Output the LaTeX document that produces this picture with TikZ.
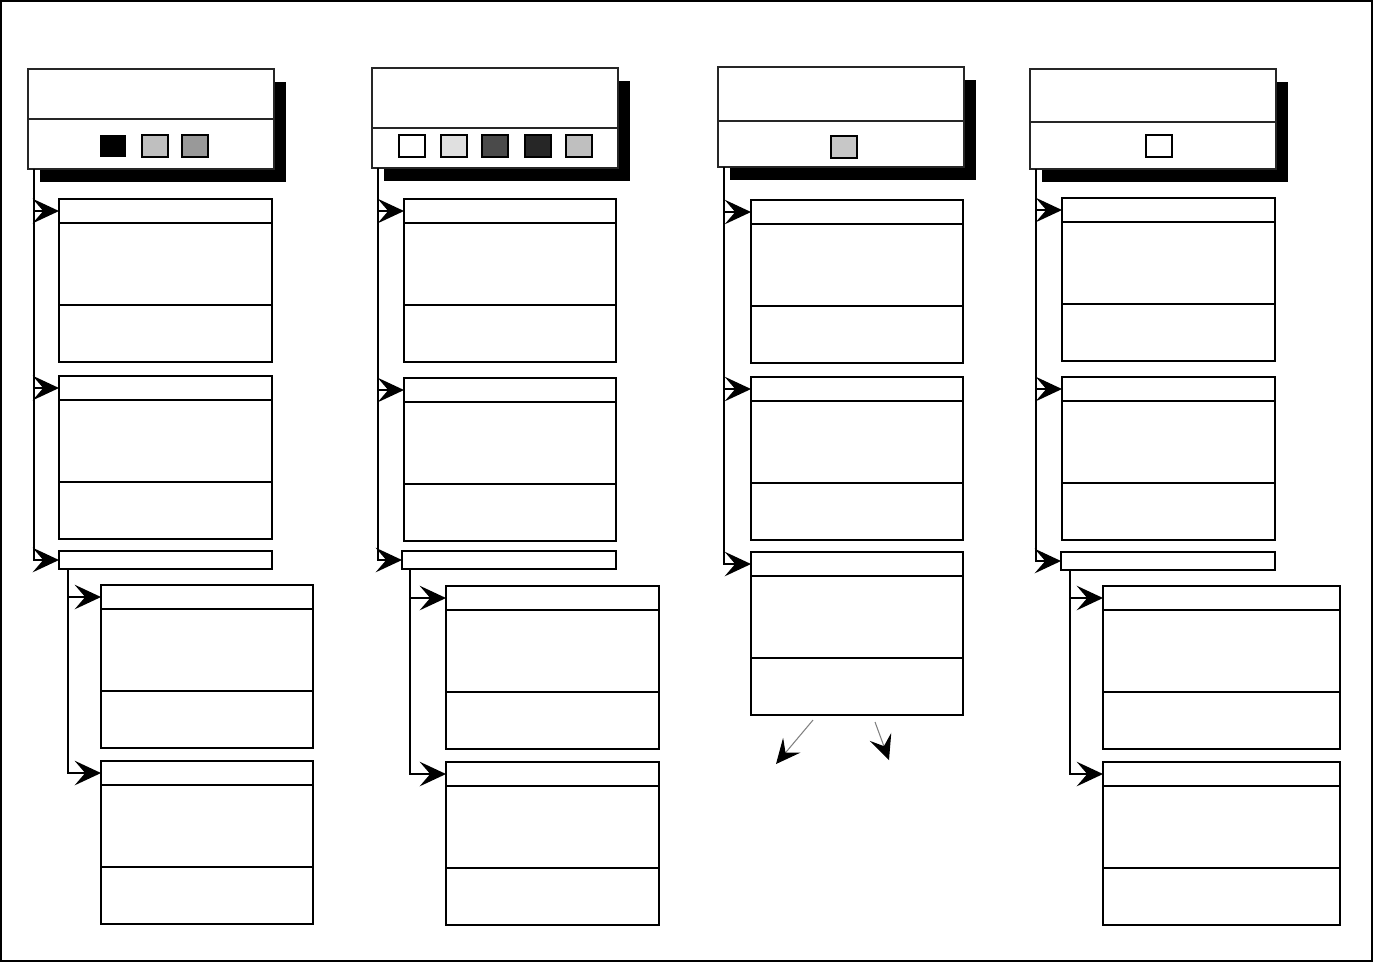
\documentclass[tikz,border=0pt]{standalone}
\usetikzlibrary{arrows.meta,calc}

% one class box: title row, attribute part, operation part
\newcommand{\classbox}[4]{% name, left, top, width
  \node[part, minimum width={#4*0.01cm}, minimum height=0.24cm] (#1) at (#2,#3) {};
  \node[part, minimum width={#4*0.01cm}, minimum height=0.82cm] (#1-attr) at (#1.south west) {};
  \node[part, minimum width={#4*0.01cm}, minimum height=0.57cm] (#1-ops) at (#1-attr.south west) {};
}
% package header with drop shadow
\newcommand{\pkghead}[5]{% name, left, top, divider, shadow shift
  \fill ($(#2,#3)+(#5,13)$) rectangle ++(246,100);
  \node[head, minimum height={#4*0.01cm}] (#1) at (#2,#3) {};
  \node[head, minimum height={(100-#4)*0.01cm}] (#1-s) at (#1.south west) {};
}

\begin{document}
\begin{tikzpicture}[x=0.01cm,y=-0.01cm,
  part/.style={draw, line width=0.55pt, inner sep=0pt, outer sep=0pt, anchor=north west},
  head/.style={draw=black!85, fill=white, line width=0.6pt, inner sep=0pt, outer sep=0pt,
    anchor=north west, minimum width=2.46cm},
  swatch/.style={draw, line width=0.4pt, inner sep=0pt,
    minimum width=0.26cm, minimum height=0.22cm},
  link/.style={line width=0.4pt, -{Stealth[length=7.5pt,width=7pt,inset=3pt]}},
  fork/.style={draw=gray, line width=0.3pt,
    -{Stealth[length=7pt,width=6.5pt,inset=2.8pt,color=black]}}]
  \useasboundingbox (0,0) rectangle (1374,963);
  \draw[line width=0.6pt] (1,1) rectangle (1372,961);

  % first column
  \pkghead{h1}{28}{69}{50}{12}
  \node[swatch, draw=none, fill=black] (s11) at (113,146) {};
  \node[swatch, fill=black!25] (s12) at (155,146) {};
  \node[swatch, fill=black!40] (s13) at (195,146) {};
  \classbox{c1a}{59}{199}{213}
  \classbox{c1b}{59}{376}{213}
  \node[part, minimum width=2.13cm, minimum height=0.18cm] (c1c) at (59,551) {};
  \classbox{c1d}{101}{585}{212}
  \classbox{c1e}{101}{761}{212}
  \draw[link] ($(h1-s.south west)+(6,0)$) |- (c1a.west);
  \draw[link] ($(h1-s.south west)+(6,0)$) |- (c1b.west);
  \draw[link] ($(h1-s.south west)+(6,0)$) |- (c1c.west);
  \draw[link] ($(c1c.south west)+(9,0)$) |- (c1d.west);
  \draw[link] ($(c1c.south west)+(9,0)$) |- (c1e.west);

  % second column
  \pkghead{h2}{372}{68}{60}{12}
  \node[swatch, fill=white] (s21) at (412,146) {};
  \node[swatch, fill=black!12] (s22) at (454,146) {};
  \node[swatch, fill=black!71] (s23) at (495,146) {};
  \node[swatch, fill=black!85] (s24) at (538,146) {};
  \node[swatch, fill=black!25] (s25) at (579,146) {};
  \classbox{c2a}{404}{199}{212}
  \classbox{c2b}{404}{378}{212}
  \node[part, minimum width=2.14cm, minimum height=0.18cm] (c2c) at (402,551) {};
  \classbox{c2d}{446}{586}{213}
  \classbox{c2e}{446}{762}{213}
  \draw[link] ($(h2-s.south west)+(6,0)$) |- (c2a.west);
  \draw[link] ($(h2-s.south west)+(6,0)$) |- (c2b.west);
  \draw[link] ($(h2-s.south west)+(6,0)$) |- (c2c.west);
  \draw[link] ($(c2c.south west)+(8,0)$) |- (c2d.west);
  \draw[link] ($(c2c.south west)+(8,0)$) |- (c2e.west);

  % third column
  \pkghead{h3}{718}{67}{54}{12}
  \node[swatch, fill=black!22] (s31) at (844,147) {};
  \classbox{c3a}{751}{200}{212}
  \classbox{c3b}{751}{377}{212}
  \classbox{c3c}{751}{552}{212}
  \draw[link] ($(h3-s.south west)+(6,0)$) |- (c3a.west);
  \draw[link] ($(h3-s.south west)+(6,0)$) |- (c3b.west);
  \draw[link] ($(h3-s.south west)+(6,0)$) |- (c3c.west);
  \coordinate (f1) at (813,720);
  \coordinate (g1) at (776,764);
  \coordinate (f2) at (875,722);
  \coordinate (g2) at (889,760);
  \draw[fork] (f1) -- (g1);
  \draw[fork] (f2) -- (g2);

  % fourth column
  \pkghead{h4}{1030}{69}{53}{12}
  \node[swatch, fill=white] (s41) at (1159,146) {};
  \classbox{c4a}{1062}{198}{213}
  \classbox{c4b}{1062}{377}{213}
  \node[part, minimum width=2.14cm, minimum height=0.18cm] (c4c) at (1061,552) {};
  \classbox{c4d}{1103}{586}{237}
  \classbox{c4e}{1103}{762}{237}
  \draw[link] ($(h4-s.south west)+(6,0)$) |- (c4a.west);
  \draw[link] ($(h4-s.south west)+(6,0)$) |- (c4b.west);
  \draw[link] ($(h4-s.south west)+(6,0)$) |- (c4c.west);
  \draw[link] ($(c4c.south west)+(9,0)$) |- (c4d.west);
  \draw[link] ($(c4c.south west)+(9,0)$) |- (c4e.west);
\end{tikzpicture}
\end{document}
